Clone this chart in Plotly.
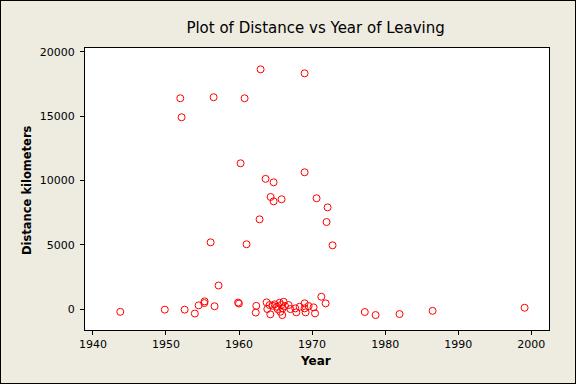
import plotly.graph_objects as go

# Data
year = [
    1962.95, 1968.97, 1951.96, 1956.52, 1960.76, 1952.14, 1960.21, 1968.97,
    1963.63, 1964.73, 1964.32, 1964.73, 1965.82, 1970.61, 1972.12, 1971.98,
    1962.81, 1956.11, 1961.03, 1972.80, 1957.20, 1971.26, 1971.85,
    1943.75, 1949.84, 1952.56, 1953.95, 1954.47, 1955.29, 1955.25, 1956.65,
    1959.87, 1959.99, 1962.36, 1962.29, 1963.77, 1963.87, 1964.28, 1964.18,
    1964.59, 1964.87, 1965.20, 1965.28, 1965.55, 1965.78, 1965.96, 1965.65,
    1965.92, 1966.10, 1966.29, 1966.78, 1967.02, 1967.70, 1967.84, 1968.29,
    1968.97, 1968.97, 1969.11, 1969.52, 1970.20, 1970.40,
    1977.21, 1978.69, 1981.97, 1986.49, 1999.08,
]
distance = [
    18650, 18340, 16400, 16480, 16400, 14920, 11340, 10640,
    10130, 9860, 8720, 8380, 8540, 8620, 7910, 6770,
    6980, 5190, 5040, 4960, 1830, 960, 440,
    -218, -47, -47, -350, 288, 599, 467, 218,
    506, 428, 249, -272, 521, 0, -412, 311,
    257, 366, 179, 0, 490, 311, 54, -210,
    -467, 568, 233, 311, 0, 54, -257, 179,
    444, 54, -257, 233, 132, -335,
    -233, -467, -389, -140, 101,
]
x_ticks = [1940, 1950, 1960, 1970, 1980, 1990, 2000]
y_ticks = [0, 5000, 10000, 15000, 20000]

W, H = 576, 384
L, R, T, B = 85, 27, 48, 54
pw, ph = W - L - R, H - T - B

fig = go.Figure()
fig.add_trace(go.Scatter(
    x=year, y=distance, mode="markers",
    marker=dict(symbol="circle-open", size=7, color="red",
                line=dict(color="red", width=1)),
    showlegend=False, hoverinfo="x+y",
))

axis_common = dict(
    showgrid=False, zeroline=False, showline=True, linecolor="black",
    linewidth=1, mirror=True, ticks="outside", ticklen=4, tickwidth=1,
    tickcolor="black",
    tickfont=dict(family="DejaVu Sans", size=11, color="black"),
)

fig.update_layout(
    width=W, height=H,
    margin=dict(l=L, r=R, t=T, b=B, autoexpand=False),
    paper_bgcolor="#EEEBE1",
    plot_bgcolor="white",
    title=dict(text="Plot of Distance vs Year of Leaving",
               font=dict(family="DejaVu Sans", size=15, color="black"),
               x=0.497, xanchor="center", xref="paper",
               y=1 - 28 / H, yanchor="middle", yref="container"),
    xaxis=dict(range=[1938.92, 2002.42], tickvals=x_ticks,
               ticktext=[str(v) for v in x_ticks], ticklabelstandoff=0,
               **axis_common),
    yaxis=dict(range=[-1630, 20310], tickvals=y_ticks,
               ticktext=[str(v) for v in y_ticks], ticklabelstandoff=3,
               **axis_common),
    annotations=[
        dict(text="<b>Year</b>", xref="paper", yref="paper",
             x=(315.5 - L) / pw, y=-(361 - (T + ph)) / ph,
             xanchor="center", yanchor="middle", showarrow=False,
             font=dict(family="DejaVu Sans", size=12, color="black")),
        dict(text="<b>Distance kilometers</b>", xref="paper", yref="paper",
             x=-(L - 27) / pw, y=1 - (190 - T) / ph, textangle=-90,
             xanchor="center", yanchor="middle", showarrow=False,
             font=dict(family="DejaVu Sans", size=11.5, color="black")),
    ],
    shapes=[
        dict(type="rect", xref="paper", yref="paper",
             x0=-L / pw, x1=(W - L) / pw,
             y0=-B / ph, y1=(H - B) / ph,
             line=dict(color="black", width=2), layer="above"),
    ],
)

fig.write_html(
    "out.html",
    config={"displayModeBar": False},
    post_script="document.body.style.margin='0';"
                "document.body.style.overflow='hidden';",
)
